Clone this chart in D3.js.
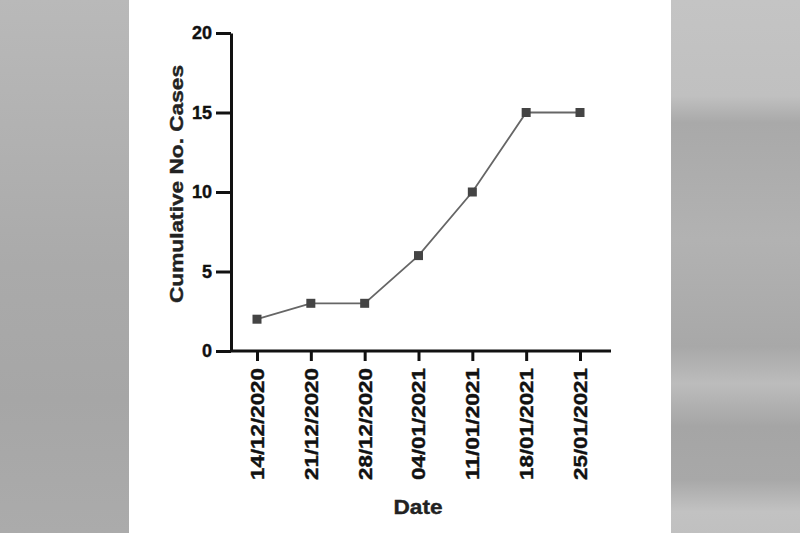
<!DOCTYPE html>
<html><head><meta charset="utf-8">
<script src="https://cdn.jsdelivr.net/npm/d3@7"></script>
<style>body{margin:0;background:#fff}svg{display:block}</style>
</head><body>
<script>
const dates = ["14/12/2020","21/12/2020","28/12/2020","04/01/2021","11/01/2021","18/01/2021","25/01/2021"];
const cases = [2, 3, 3, 6, 10, 15, 15];
const yTicks = [0, 5, 10, 15, 20];

const W = 800, H = 533;
const svg = d3.select("body").append("svg").attr("width", W).attr("height", H);
const defs = svg.append("defs");
const gL = defs.append("linearGradient").attr("id","bgL").attr("x1",0).attr("y1",0).attr("x2",0).attr("y2",1);
[[0,"#b9b9b9"],[0.2,"#b3b3b3"],[0.5,"#aaaaaa"],[0.75,"#a6a6a6"],[1,"#ababab"]].forEach(s=>gL.append("stop").attr("offset",s[0]).attr("stop-color",s[1]));
const gR = defs.append("linearGradient").attr("id","bgR").attr("x1",0).attr("y1",0).attr("x2",0).attr("y2",1);
[[0,"#c4c4c4"],[0.18,"#c0c0c0"],[0.23,"#a9a9a9"],[0.45,"#b2b2b2"],[0.65,"#a8a8a8"],[0.72,"#bcbcbc"],[0.8,"#a5a5a5"],[0.9,"#a8a8a8"],[0.96,"#c2c2c2"],[1,"#c0c0c0"]].forEach(s=>gR.append("stop").attr("offset",s[0]).attr("stop-color",s[1]));
svg.append("rect").attr("x",0).attr("y",0).attr("width",129).attr("height",H).attr("fill","url(#bgL)");
svg.append("rect").attr("x",671).attr("y",0).attr("width",129).attr("height",H).attr("fill","url(#bgR)");

const y = d3.scaleLinear().domain([0,20]).range([351,33]);
const x = d3.scalePoint().domain(dates).range([257,580]);
const x0 = 231, xEnd = 611;

const font = "Arial, 'Liberation Sans', sans-serif";

// Y axis
const yAxis = svg.append("g").attr("transform",`translate(${x0},0)`)
  .call(d3.axisLeft(y).tickValues(yTicks).tickSize(15).tickPadding(4).tickSizeOuter(0));
yAxis.select(".domain").attr("stroke","#111").attr("stroke-width",3);
yAxis.selectAll(".tick line").attr("stroke","#111").attr("stroke-width",3);
yAxis.selectAll(".tick text").attr("font-family",font).attr("font-weight","bold").attr("font-size",18)
  .attr("fill","#111").attr("stroke","#111").attr("stroke-width",0.4);

// X axis
const xAxis = svg.append("g").attr("transform",`translate(0,351)`)
  .call(d3.axisBottom(x).tickSize(10).tickSizeOuter(0));
xAxis.select(".domain").attr("d",`M${x0},0H${xEnd}`).attr("stroke","#111").attr("stroke-width",3);
xAxis.selectAll(".tick line").attr("stroke","#111").attr("stroke-width",3);
xAxis.selectAll(".tick text").attr("font-family",font).attr("font-weight","bold").attr("font-size",18)
  .attr("fill","#111").attr("stroke","#111").attr("stroke-width",0.4)
  .attr("transform","rotate(-90)").attr("text-anchor","end").attr("x",-17).attr("y",0).attr("dy","0.36em")
  .attr("textLength",112).attr("lengthAdjust","spacingAndGlyphs");

// line
const line = d3.line().x((d,i)=>x(dates[i])).y(d=>y(d));
svg.append("path").datum(cases).attr("d",line).attr("fill","none").attr("stroke","#666").attr("stroke-width",1.8);
svg.selectAll("rect.pt").data(cases).enter().append("rect").attr("class","pt")
  .attr("x",(d,i)=>x(dates[i])-4.5).attr("y",d=>y(d)-4.5).attr("width",9).attr("height",9).attr("fill","#444");

// titles
svg.append("text").attr("x",418).attr("y",514).attr("text-anchor","middle")
  .attr("font-family",font).attr("font-weight","bold").attr("font-size",21).attr("fill","#222")
  .attr("stroke","#222").attr("stroke-width",0.4)
  .attr("textLength",49).attr("lengthAdjust","spacingAndGlyphs").text("Date");
svg.append("text").attr("transform","translate(183,184) rotate(-90)").attr("text-anchor","middle")
  .attr("font-family",font).attr("font-weight","bold").attr("font-size",19).attr("fill","#222")
  .attr("stroke","#222").attr("stroke-width",0.4)
  .attr("textLength",238).attr("lengthAdjust","spacingAndGlyphs").text("Cumulative No. Cases");
</script>
</body></html>
